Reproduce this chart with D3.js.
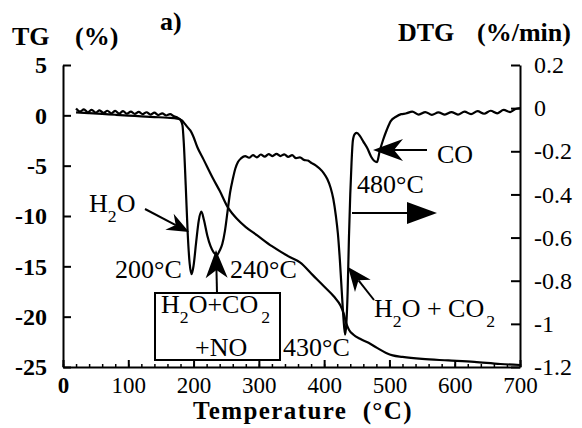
<!DOCTYPE html>
<html><head><meta charset="utf-8">
<script src="https://cdn.jsdelivr.net/npm/d3@7"></script>
<style>
html,body{margin:0;padding:0;background:#fff;}
svg{display:block;}
text{font-family:"Liberation Serif","Times New Roman",serif;fill:#000;}
</style></head><body>
<svg id="c" width="582" height="428"></svg>
<script>
// ---------- data ----------
const tgTemps  = [20,40,60,80,100,120,140,160,175,182,186,191,195,199,206,215,230,240,253,260,266,280,297,320,348,363,383,400,415,425,430,434,438,445,455,468,481,495,505,520,550,590,630,670,700];
const tgValues = [0.3,0.22,0.14,0.06,-0.02,-0.1,-0.17,-0.24,-0.32,-0.5,-0.8,-1.2,-1.5,-2.0,-3.2,-4.35,-6.3,-7.5,-9.2,-9.8,-10.25,-11.1,-11.9,-13.0,-14.1,-14.6,-15.9,-17.0,-18.0,-18.9,-19.7,-20.7,-21.3,-21.8,-22.2,-22.6,-23.1,-23.6,-23.85,-24.0,-24.2,-24.35,-24.5,-24.7,-24.8];

const dtgTemps  = [20,26,32,38,44,50,56,62,68,74,80,86,92,98,104,110,116,122,128,134,140,146,152,158,164,170,176,180,183,185,188,191,194,197,200,204,208,212,216,221,226,231,236,240,244,248,252,256,260,264,268,273,279,285,291,297,303,309,315,321,327,333,339,345,351,357,363,369,375,381,387,393,399,405,410,414,418,421,424,427,429.5,432,434,436,438,440,442,444,447,450,455,460,466,472,477,481,485,490,496,502,510,518,525,535,545,555,565,575,585,595,605,615,625,635,645,655,665,675,685,693,700];
const dtgValues = [-0.002,-0.016,-0.006,-0.019,-0.008,-0.021,-0.01,-0.022,-0.012,-0.024,-0.013,-0.025,-0.014,-0.026,-0.016,-0.027,-0.017,-0.028,-0.019,-0.03,-0.021,-0.032,-0.024,-0.034,-0.028,-0.038,-0.045,-0.055,-0.08,-0.16,-0.36,-0.58,-0.72,-0.77,-0.73,-0.62,-0.52,-0.48,-0.52,-0.59,-0.64,-0.67,-0.68,-0.66,-0.63,-0.57,-0.48,-0.39,-0.33,-0.28,-0.25,-0.232,-0.222,-0.23,-0.218,-0.228,-0.215,-0.225,-0.213,-0.222,-0.212,-0.222,-0.214,-0.226,-0.218,-0.232,-0.228,-0.24,-0.243,-0.255,-0.265,-0.28,-0.30,-0.33,-0.37,-0.42,-0.5,-0.58,-0.7,-0.85,-0.97,-1.05,-1.0,-0.85,-0.6,-0.4,-0.25,-0.15,-0.12,-0.115,-0.13,-0.155,-0.185,-0.225,-0.245,-0.25,-0.2,-0.15,-0.1,-0.06,-0.04,-0.028,-0.025,-0.016,-0.03,-0.018,-0.031,-0.02,-0.03,-0.018,-0.03,-0.016,-0.028,-0.014,-0.026,-0.012,-0.024,-0.008,-0.018,-0.004,0.0];

const xTicks     = [0,100,200,300,400,500,600,700];
const xMinorTicks = d3.range(0,701,20);
const tgTicks    = [5,0,-5,-10,-15,-20,-25];
const dtgTicks   = [0.2,0,-0.2,-0.4,-0.6,-0.8,-1,-1.2];

// ---------- setup ----------
const svg = d3.select("#c");
const x  = d3.scaleLinear().domain([0,700]).range([63,520]);
const yL = d3.scaleLinear().domain([-25,5]).range([367,65]);
const yR = d3.scaleLinear().domain([-1.2,0.2]).range([367,65]);

function styleAxis(g, size, weight){
  g.attr("font-family",'"Liberation Serif","Times New Roman",serif')
   .attr("font-size",size).attr("font-weight",weight||"normal");
  g.selectAll("path.domain").attr("stroke","#000").attr("stroke-width",2);
  g.selectAll(".tick line").attr("stroke","#000").attr("stroke-width",2);
  g.selectAll(".tick text").attr("fill","#000");
}

// left axis
const gL = svg.append("g").attr("transform","translate(63,0)")
  .call(d3.axisLeft(yL).tickValues(tgTicks).tickSizeInner(-8).tickSizeOuter(0).tickPadding(16).tickFormat(d=>String(d)));
styleAxis(gL,24,"bold");

// right axis
const gR = svg.append("g").attr("transform","translate(520,0)")
  .call(d3.axisRight(yR).tickValues(dtgTicks).tickSizeInner(-9).tickSizeOuter(0).tickPadding(14).tickFormat(d=>String(d)));
styleAxis(gR,24);

// bottom minor ticks
const gBm = svg.append("g").attr("transform","translate(0,367)")
  .call(d3.axisBottom(x).tickValues(xMinorTicks).tickSizeInner(-3).tickSizeOuter(0).tickFormat(""));
gBm.select("path.domain").remove();
gBm.selectAll(".tick line").attr("stroke","#000").attr("stroke-width",1.5);

// bottom axis
const gB = svg.append("g").attr("transform","translate(0,367)")
  .call(d3.axisBottom(x).tickValues(xTicks).tickSizeInner(-7).tickSizeOuter(0).tickPadding(10).tickFormat(d=>String(d)));
styleAxis(gB,23);
gB.selectAll(".tick text").filter(d=>d===0).attr("font-weight","bold");

// ---------- curves ----------
const tgData  = tgTemps.map((t,i)=>({t, v:tgValues[i]}));
const dtgData = dtgTemps.map((t,i)=>({t, v:dtgValues[i]}));

svg.append("path").datum(tgData)
  .attr("d", d3.line().x(d=>x(d.t)).y(d=>yL(d.v)).curve(d3.curveMonotoneX))
  .attr("fill","none").attr("stroke","#000").attr("stroke-width",2.2).attr("stroke-linejoin","round");

svg.append("path").datum(dtgData)
  .attr("d", d3.line().x(d=>x(d.t)).y(d=>yR(d.v)).curve(d3.curveMonotoneX))
  .attr("fill","none").attr("stroke","#000").attr("stroke-width",2.2).attr("stroke-linejoin","round");

// ---------- titles ----------
function txt(s, px, py, size, weight, anchor){
  return svg.append("text").attr("x",px).attr("y",py).attr("font-size",size)
    .attr("font-weight",weight||"normal").attr("text-anchor",anchor||"start").text(s);
}
txt("TG",12,45,26,"bold");
txt("(%)",75,45,26,"bold");
txt("a)",160,30,26,"bold");
txt("DTG",398,41,26,"bold");
txt("(%/min)",477,41,26,"bold");
txt("Temperature  (°C)",303,419,25,"bold","middle").attr("letter-spacing",1.4).style("white-space","pre");

// ---------- annotations ----------
function chem(px, py, parts, size){
  const t = svg.append("text").attr("x",px).attr("y",py).attr("font-size",size).style("white-space","pre");
  let shifted = 0;
  parts.forEach(p=>{
    const sp = t.append("tspan").text(p.s);
    let dy = 0;
    if(p.sub){ sp.attr("font-size",size*0.68); dy = 10 - shifted; shifted = 10; }
    else { dy = -shifted; shifted = 0; }
    if(dy) sp.attr("dy",dy);
    if(p.dx) sp.attr("dx",p.dx);
  });
  return t;
}
chem(89,212,[{s:"H"},{s:"2",sub:true},{s:"O"}],26);
txt("200°C",115,278,26);
txt("240°C",230,278,26);
// box
svg.append("rect").attr("x",155).attr("y",293).attr("width",125).attr("height",67)
  .attr("fill","none").attr("stroke","#000").attr("stroke-width",2);
chem(161,313,[{s:"H"},{s:"2",sub:true},{s:"O+CO"},{s:"2",sub:true,dx:3}],26);
txt("+NO",195,356,26);
txt("430°C",283,356,26);
chem(374,317,[{s:"H"},{s:"2",sub:true},{s:"O + CO"},{s:"2",sub:true,dx:2}],26);
txt("480°C",357,193,26);
txt("CO",437,163,26);

function arrow(x1,y1,x2,y2,len,half,notch){
  const dx=x2-x1, dy=y2-y1, L=Math.hypot(dx,dy), ux=dx/L, uy=dy/L, nx=-uy, ny=ux;
  const bx=x2-ux*len, by=y2-uy*len;
  const mx=x2-ux*(len-notch), my=y2-uy*(len-notch);
  svg.append("line").attr("x1",x1).attr("y1",y1).attr("x2",mx).attr("y2",my)
    .attr("stroke","#000").attr("stroke-width",2);
  svg.append("path").attr("d",`M${x2},${y2}L${bx+nx*half},${by+ny*half}L${mx},${my}L${bx-nx*half},${by-ny*half}Z`)
    .attr("fill","#000");
}
arrow(145,209,189,232,22,9,7);     // H2O
arrow(217,293,216,250,28,11,8);    // 240 box
arrow(374,300,348,267,24,10,7);    // H2O + CO2
arrow(427,150,373,150,30,11,9);    // CO
arrow(352,213,437,213,30,11,0);    // right
</script>
</body></html>
